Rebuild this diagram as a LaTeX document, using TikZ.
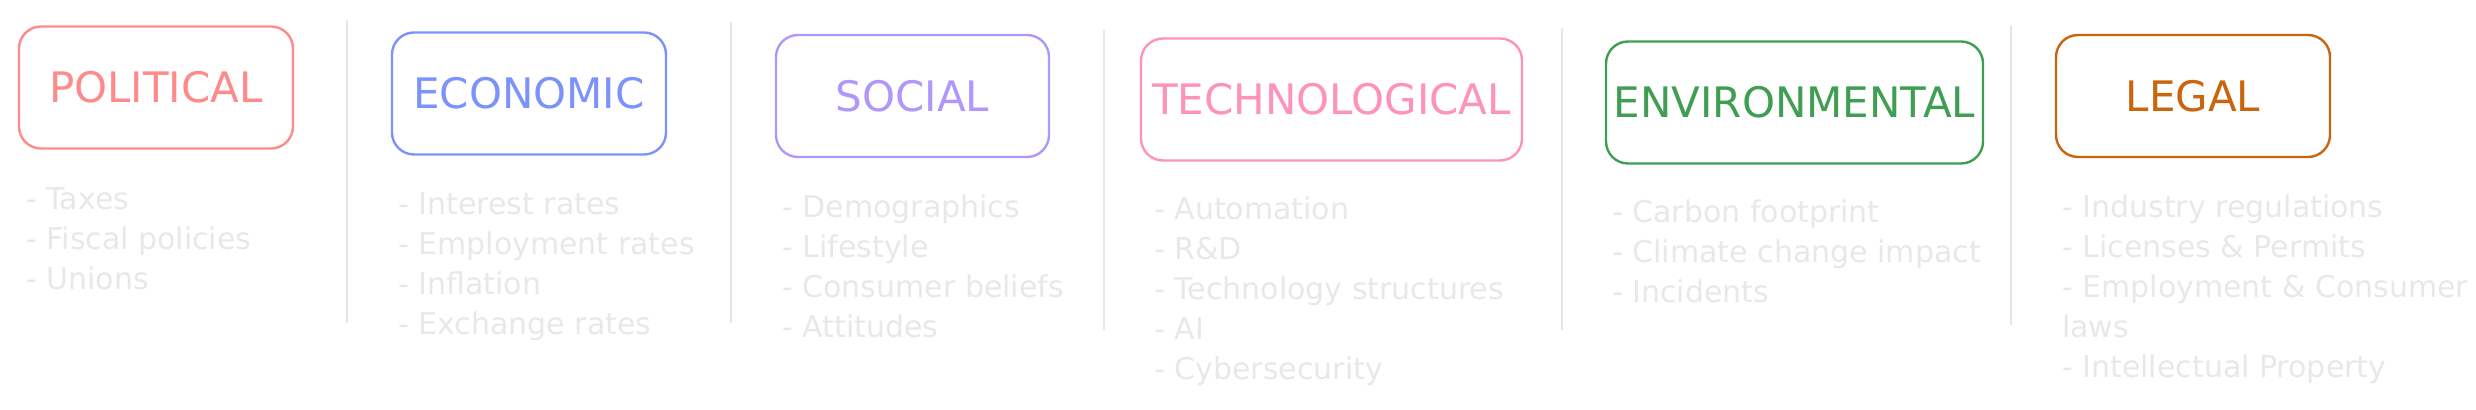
\documentclass[tikz,border=0pt]{standalone}
\usepackage{fontspec}
\setmainfont{DejaVu Sans}
\usetikzlibrary{positioning}
\definecolor{polcol}{HTML}{FF8A8A}
\definecolor{ecocol}{HTML}{7B93FA}
\definecolor{soccol}{HTML}{B197FC}
\definecolor{teccol}{HTML}{FF92BB}
\definecolor{envcol}{HTML}{3F9E52}
\definecolor{legcol}{HTML}{C9650F}
\definecolor{faint}{HTML}{E8E8E8}
\definecolor{rulegray}{HTML}{E6E6E6}

\begin{document}
\begin{tikzpicture}[x=0.5pt,y=-0.5pt,
  factor/.style={draw,line width=1.2pt,rounded corners=11pt,inner sep=0pt,
    minimum height=61pt,font=\fontsize{21}{25}\selectfont},
  items/.style={anchor=north west,align=left,inner sep=0pt,text=faint,
    font=\fontsize{15}{20}\selectfont},
  divider/.style={rulegray,line width=1.2pt}]
 \useasboundingbox (0,0) rectangle (2476,410);
 % the six factors
 \node[factor,polcol,minimum width=137pt] (pol) at (156,87.5) {POLITICAL};
 \node[factor,ecocol,minimum width=137pt] (eco) at (529,93.5) {ECONOMIC};
 \node[factor,soccol,minimum width=136.5pt] (soc) at (912.5,96) {SOCIAL};
 \node[factor,teccol,minimum width=190.5pt] (tec) at (1331.5,99.5) {TECHNOLOGICAL};
 \node[factor,envcol,minimum width=188.5pt] (env) at (1794.5,102.5) {ENVIRONMENTAL};
 \node[factor,legcol,minimum width=137pt] (leg) at (2193,96) {LEGAL};
 % what each factor covers
 \node[items] (politems) at ([shift={(8,38)}]pol.south west)
  {- Taxes\\- Fiscal policies\\- Unions};
 \node[items] (ecoitems) at ([shift={(7,37)}]eco.south west)
  {- Interest rates\\- Employment rates\\- Inflation\\- Exchange rates};
 \node[items] (socitems) at ([shift={(7,36)}]soc.south west)
  {- Demographics\\- Lifestyle\\- Consumer beliefs\\- Attitudes};
 \node[items] (tecitems) at ([shift={(14,35)}]tec.south west)
  {- Automation\\- R\&D\\- Technology structures\\- AI\\- Cybersecurity};
 \node[items] (envitems) at ([shift={(7,35)}]env.south west)
  {- Carbon footprint\\- Climate change impact\\- Incidents};
 \node[items] (legitems) at ([shift={(7,36)}]leg.south west)
  {- Industry regulations\\- Licenses \& Permits\\- Employment \& Consumer\\laws\\- Intellectual Property};
 % separators
 \draw[divider] (347,20) -- (347,323);
 \draw[divider] (731,22) -- (731,323);
 \draw[divider] (1104,30) -- (1104,330);
 \draw[divider] (1562,28) -- (1562,330);
 \draw[divider] (2011,25) -- (2011,325);
\end{tikzpicture}
\end{document}
